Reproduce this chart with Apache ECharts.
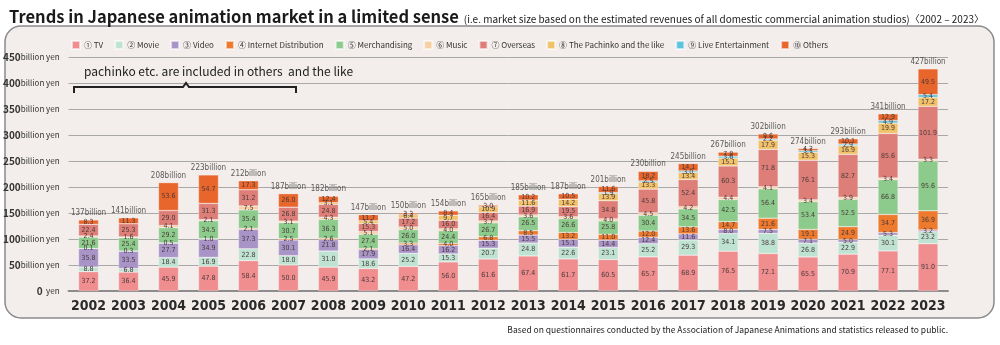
<!DOCTYPE html>
<html><head><meta charset="utf-8">
<script src="https://cdn.jsdelivr.net/npm/echarts@6/dist/echarts.min.js"></script>
<style>html,body{margin:0;padding:0;background:#fff}#c{width:1000px;height:345px}</style>
</head><body><div id="c"></div>
<script>
const years = ['2002','2003','2004','2005','2006','2007','2008','2009','2010','2011','2012','2013','2014','2015','2016','2017','2018','2019','2020','2021','2022','2023'];
const tv       = [37.2,36.4,45.9,47.8,58.4,50.0,45.9,43.2,47.2,56.0,61.6,67.4,61.7,60.5,65.7,68.9,76.5,72.1,65.5,70.9,77.1,91.0];
const movie    = [8.8,6.8,18.4,16.9,22.8,18.0,31.0,18.6,25.2,15.3,20.7,24.8,22.6,23.1,25.2,29.3,34.1,38.8,26.8,22.9,30.1,23.2];
const video    = [35.8,33.5,27.7,34.9,37.3,30.1,21.8,17.9,16.4,16.2,15.3,15.5,15.1,14.4,12.4,11.6,8.0,7.5,7.1,5.0,5.3,3.2];
const internet = [0.1,0.3,0.5,1.0,2.1,2.5,2.6,2.1,3.3,4.0,6.8,8.5,13.2,11.0,12.0,13.6,14.7,21.6,19.1,24.9,34.7,36.9];
const merch    = [21.6,25.4,29.2,34.5,35.4,30.7,36.3,27.4,26.0,24.4,26.7,26.5,26.6,25.8,30.4,34.5,42.5,56.4,53.4,52.5,66.8,95.6];
const music    = [2.4,1.6,4.1,2.1,7.5,3.1,4.3,5.1,5.0,4.0,3.7,3.6,3.6,4.0,4.5,4.2,4.4,4.1,3.4,3.9,3.4,3.3];
const overseas = [22.4,25.3,29.0,31.3,31.2,26.8,24.8,15.3,17.2,16.0,16.4,16.9,19.5,34.8,45.8,52.4,60.3,71.8,76.1,82.7,85.6,101.9];
const pachinko = [0,0,0,0,0,0,3.1,5.4,6.4,9.7,10.9,11.6,14.2,13.9,13.3,13.4,15.1,17.9,15.3,16.9,19.9,17.2];
const live     = [0,0,0,0,0,0,0,0,0,0,0,0,0,1.9,2.5,3.0,3.6,2.2,3.1,2.9,4.9,5.4];
const others   = [8.3,11.3,53.6,54.7,17.3,26.0,12.4,11.7,3.3,8.4,3.0,10.2,10.5,11.6,18.2,14.1,7.8,9.6,4.2,10.1,12.9,49.5];
const totals   = [137,141,208,223,212,187,182,147,150,154,165,185,187,201,230,245,267,302,274,293,341,427];
const seriesNames = ['① TV','② Movie','③ Video','④ Internet Distribution','⑤ Merchandising','⑥ Music','⑦ Overseas','⑧ The Pachinko and the like','⑨ Live Entertainment','⑩ Others'];
const seriesData = [tv,movie,video,internet,merch,music,overseas,pachinko,live,others];
const colors = ['#f08d8f','#bfe3d2','#a994c8','#ee7a2e','#8ccb8c','#f6cfa2','#dd7f78','#f1c26a','#5ec4dc','#e8652c'];

const chart = echarts.init(document.getElementById('c'));
const narrow = '"Liberation Sans Narrow", "DejaVu Sans Condensed", sans-serif';
const jp = '"Noto Sans CJK JP", sans-serif';
const series = seriesData.map((d,i)=>({
  name: seriesNames[i], type:'bar', stack:'all', barWidth:20,
  data: d.map(v=> v>0 ? v : null),
  itemStyle:{color:colors[i], borderColor:'rgba(255,255,255,0.6)', borderWidth:0.5},
  label:{show:true, position:'inside', fontSize:7, color:'#4a3a3a', fontFamily:narrow,
    formatter:p=> p.value ? p.value.toFixed(1) : ''}
}));
series.push({
  type:'scatter', data: totals, symbolSize:0, silent:true, z:5,
  label:{show:true, position:'top', distance:3, fontSize:8, color:'#333', fontFamily:narrow,
    formatter:p=>p.value+'billion'}
});
chart.setOption({
  animation:false,
  backgroundColor:'#ffffff',
  color: colors,
  title:{left:4, top:3, text:'{a|Trends in Japanese animation market in a limited sense} {b|(i.e. market size based on the estimated revenues of all domestic commercial animation studios)〈2002 – 2023〉}',
    textStyle:{rich:{
      a:{fontSize:16.5, fontWeight:'bold', color:'#1a1a1a', fontFamily:jp},
      b:{fontSize:10, fontWeight:'normal', color:'#1a1a1a', fontFamily:jp, padding:[4,0,0,0]}
    }}},
  legend:{left:66, top:35, itemWidth:8, itemHeight:8, itemGap:11, icon:'rect',
    textStyle:{fontSize:8, color:'#333', fontFamily:jp, padding:[0,0,0,-1]},
    data: seriesNames},
  grid:{left:65, top:57, width:883, height:234, containLabel:false},
  xAxis:{type:'category', data:years,
    axisLine:{lineStyle:{color:'#8c8c8c', width:2}}, axisTick:{show:false},
    axisLabel:{interval:0, fontSize:14, fontWeight:'bold', color:'#2a2a2a', fontFamily:narrow, margin:8}},
  yAxis:{type:'value', min:0, max:450, interval:50,
    axisLine:{show:false}, axisTick:{show:false},
    splitLine:{lineStyle:{color:'#a8a8a8', width:1}},
    axisLabel:{margin:9, formatter:v=> v===0 ? '{n|0} {u|yen}' : '{n|'+v+'}{u|billion yen}',
      rich:{n:{fontSize:10, fontWeight:'bold', color:'#333', fontFamily:jp},
            u:{fontSize:8, color:'#333', fontFamily:jp}}}},
  graphic:[
    {type:'rect', z:-10, shape:{x:5, y:26, width:989, height:292, r:16}, style:{fill:'#f3eeec', stroke:'#8a8a8a', lineWidth:1.5}},
    {type:'text', z:10, left:84, top:65, style:{text:'pachinko etc. are included in others  and the like', fontSize:12, fill:'#222', fontFamily:jp}},
    {type:'polyline', z:10, shape:{points:[[74,93],[74,87],[183,87],[186,83],[189,87],[296,87],[296,93]]}, style:{stroke:'#222', lineWidth:2, fill:null}},
    {type:'text', z:10, right:52, top:326, style:{text:'Based on questionnaires conducted by the Association of Japanese Animations and statistics released to public.', fontSize:8.5, fill:'#222', fontFamily:jp}}
  ],
  series: series
});
</script></body></html>
